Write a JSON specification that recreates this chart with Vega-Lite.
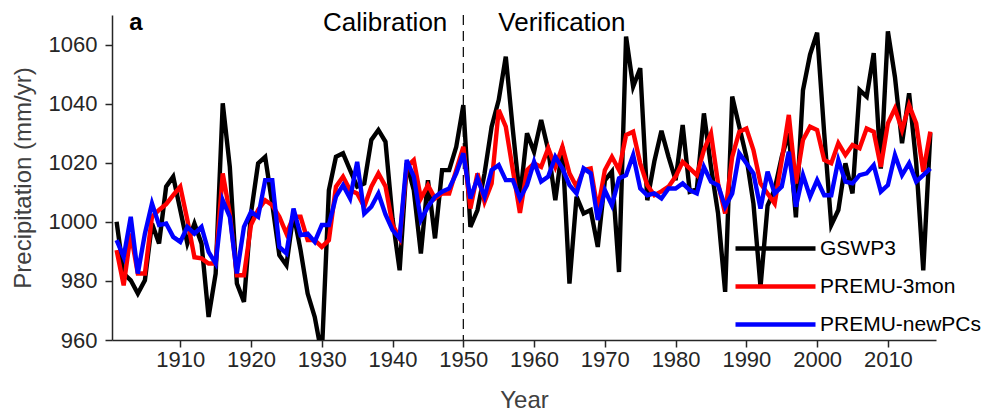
{
  "$schema": "https://vega.github.io/schema/vega-lite/v6.json",
  "width": 824,
  "height": 325,
  "autosize": {"type": "none"},
  "padding": {"left": 112, "top": 15, "right": 51, "bottom": 78},
  "background": "white",
  "config": {
    "view": {"stroke": null},
    "font": "Liberation Sans",
    "axis": {"grid": false}
  },
  "datasets": {
    "series": [
      {"year":1901,"GSWP3":1000,"PREMU-3mon":990.4,"PREMU-newPCs":993.8},
      {"year":1902,"GSWP3":982.5,"PREMU-3mon":978.5,"PREMU-newPCs":988.1},
      {"year":1903,"GSWP3":980.2,"PREMU-3mon":996,"PREMU-newPCs":1001.7},
      {"year":1904,"GSWP3":975.7,"PREMU-3mon":982.5,"PREMU-newPCs":982.5},
      {"year":1905,"GSWP3":980.2,"PREMU-3mon":982.5,"PREMU-newPCs":996},
      {"year":1906,"GSWP3":999.4,"PREMU-3mon":1001.7,"PREMU-newPCs":1006.2},
      {"year":1907,"GSWP3":992.7,"PREMU-3mon":1004,"PREMU-newPCs":998.9},
      {"year":1908,"GSWP3":1011.9,"PREMU-3mon":1006,"PREMU-newPCs":999.4},
      {"year":1909,"GSWP3":1015.3,"PREMU-3mon":1009,"PREMU-newPCs":994.9},
      {"year":1910,"GSWP3":1004,"PREMU-3mon":1011.9,"PREMU-newPCs":993.2},
      {"year":1911,"GSWP3":992.7,"PREMU-3mon":1000.6,"PREMU-newPCs":998.3},
      {"year":1912,"GSWP3":999.4,"PREMU-3mon":988,"PREMU-newPCs":996},
      {"year":1913,"GSWP3":992.7,"PREMU-3mon":987.6,"PREMU-newPCs":998.3},
      {"year":1914,"GSWP3":967.8,"PREMU-3mon":985.9,"PREMU-newPCs":989.8},
      {"year":1915,"GSWP3":982.5,"PREMU-3mon":985.9,"PREMU-newPCs":985.9},
      {"year":1916,"GSWP3":1040.1,"PREMU-3mon":1016.4,"PREMU-newPCs":1007.3},
      {"year":1917,"GSWP3":1018.6,"PREMU-3mon":1002.8,"PREMU-newPCs":1001.7},
      {"year":1918,"GSWP3":979.1,"PREMU-3mon":981.9,"PREMU-newPCs":982.5},
      {"year":1919,"GSWP3":972.9,"PREMU-3mon":981.9,"PREMU-newPCs":998.3},
      {"year":1920,"GSWP3":1003,"PREMU-3mon":999,"PREMU-newPCs":1003.4},
      {"year":1921,"GSWP3":1019.8,"PREMU-3mon":1004,"PREMU-newPCs":1001.7},
      {"year":1922,"GSWP3":1022,"PREMU-3mon":1007.3,"PREMU-newPCs":1014.1},
      {"year":1923,"GSWP3":1006,"PREMU-3mon":1005.6,"PREMU-newPCs":1014.1},
      {"year":1924,"GSWP3":988.7,"PREMU-3mon":1001.7,"PREMU-newPCs":991.5},
      {"year":1925,"GSWP3":985.3,"PREMU-3mon":996,"PREMU-newPCs":989.3},
      {"year":1926,"GSWP3":1002.8,"PREMU-3mon":1001.7,"PREMU-newPCs":1004.5},
      {"year":1927,"GSWP3":990.4,"PREMU-3mon":1001.7,"PREMU-newPCs":995.5},
      {"year":1928,"GSWP3":975.7,"PREMU-3mon":993.8,"PREMU-newPCs":996},
      {"year":1929,"GSWP3":967.8,"PREMU-3mon":993.8,"PREMU-newPCs":993.2},
      {"year":1930,"GSWP3":955,"PREMU-3mon":991.5,"PREMU-newPCs":998.9},
      {"year":1931,"GSWP3":1010.7,"PREMU-3mon":993.8,"PREMU-newPCs":998.9},
      {"year":1932,"GSWP3":1022,"PREMU-3mon":1011.9,"PREMU-newPCs":1008.5},
      {"year":1933,"GSWP3":1023.2,"PREMU-3mon":1015.3,"PREMU-newPCs":1012.4},
      {"year":1934,"GSWP3":1017.5,"PREMU-3mon":1010.7,"PREMU-newPCs":1007.9},
      {"year":1935,"GSWP3":1011.9,"PREMU-3mon":1009.6,"PREMU-newPCs":1020.3},
      {"year":1936,"GSWP3":1013,"PREMU-3mon":1005.1,"PREMU-newPCs":1002.8},
      {"year":1937,"GSWP3":1027.7,"PREMU-3mon":1011.9,"PREMU-newPCs":1005.1},
      {"year":1938,"GSWP3":1031.1,"PREMU-3mon":1016.4,"PREMU-newPCs":1009.6},
      {"year":1939,"GSWP3":1027.1,"PREMU-3mon":1012,"PREMU-newPCs":1002.5},
      {"year":1940,"GSWP3":1001,"PREMU-3mon":999,"PREMU-newPCs":997.2},
      {"year":1941,"GSWP3":983.6,"PREMU-3mon":994.4,"PREMU-newPCs":994.4},
      {"year":1942,"GSWP3":1019.8,"PREMU-3mon":1018.6,"PREMU-newPCs":1020.9},
      {"year":1943,"GSWP3":1010.7,"PREMU-3mon":1020.9,"PREMU-newPCs":1015.3},
      {"year":1944,"GSWP3":989.3,"PREMU-3mon":1007.9,"PREMU-newPCs":1000.6},
      {"year":1945,"GSWP3":1014.1,"PREMU-3mon":1012.4,"PREMU-newPCs":1005.1},
      {"year":1946,"GSWP3":994.4,"PREMU-3mon":1007.9,"PREMU-newPCs":1008.5},
      {"year":1947,"GSWP3":1017.5,"PREMU-3mon":1009.6,"PREMU-newPCs":1010.2},
      {"year":1948,"GSWP3":1017.5,"PREMU-3mon":1009.6,"PREMU-newPCs":1011.3},
      {"year":1949,"GSWP3":1025.4,"PREMU-3mon":1017.5,"PREMU-newPCs":1016.4},
      {"year":1950,"GSWP3":1039.5,"PREMU-3mon":1025.4,"PREMU-newPCs":1023.2},
      {"year":1951,"GSWP3":998.3,"PREMU-3mon":1004.5,"PREMU-newPCs":1007.9},
      {"year":1952,"GSWP3":1004,"PREMU-3mon":1016.4,"PREMU-newPCs":1014.7},
      {"year":1953,"GSWP3":1016.4,"PREMU-3mon":1006.8,"PREMU-newPCs":1008.5},
      {"year":1954,"GSWP3":1032.2,"PREMU-3mon":1013,"PREMU-newPCs":1017.5},
      {"year":1955,"GSWP3":1041.2,"PREMU-3mon":1037.9,"PREMU-newPCs":1019.2},
      {"year":1956,"GSWP3":1055.9,"PREMU-3mon":1032.2,"PREMU-newPCs":1014.1},
      {"year":1957,"GSWP3":1031.1,"PREMU-3mon":1017.5,"PREMU-newPCs":1014.1},
      {"year":1958,"GSWP3":1008,"PREMU-3mon":1003,"PREMU-newPCs":1007.9},
      {"year":1959,"GSWP3":1030,"PREMU-3mon":1017.5,"PREMU-newPCs":1012.4},
      {"year":1960,"GSWP3":1023.7,"PREMU-3mon":1019.8,"PREMU-newPCs":1020.3},
      {"year":1961,"GSWP3":1034.5,"PREMU-3mon":1018.6,"PREMU-newPCs":1013.6},
      {"year":1962,"GSWP3":1024.3,"PREMU-3mon":1024.9,"PREMU-newPCs":1015.3},
      {"year":1963,"GSWP3":1007.3,"PREMU-3mon":1018.6,"PREMU-newPCs":1022},
      {"year":1964,"GSWP3":1025.4,"PREMU-3mon":1025.4,"PREMU-newPCs":1018.1},
      {"year":1965,"GSWP3":979.1,"PREMU-3mon":1016.4,"PREMU-newPCs":1012.4},
      {"year":1966,"GSWP3":1008.5,"PREMU-3mon":1011.9,"PREMU-newPCs":1009.6},
      {"year":1967,"GSWP3":1002.8,"PREMU-3mon":1017.5,"PREMU-newPCs":1018.1},
      {"year":1968,"GSWP3":1004,"PREMU-3mon":1018.1,"PREMU-newPCs":1016.4},
      {"year":1969,"GSWP3":991.5,"PREMU-3mon":1004,"PREMU-newPCs":1000.6},
      {"year":1970,"GSWP3":1014,"PREMU-3mon":1017.5,"PREMU-newPCs":1010.7},
      {"year":1971,"GSWP3":1017,"PREMU-3mon":1022,"PREMU-newPCs":1005.6},
      {"year":1972,"GSWP3":983,"PREMU-3mon":1017.5,"PREMU-newPCs":1014.7},
      {"year":1973,"GSWP3":1062.7,"PREMU-3mon":1029.4,"PREMU-newPCs":1015.8},
      {"year":1974,"GSWP3":1045.8,"PREMU-3mon":1030.5,"PREMU-newPCs":1022.6},
      {"year":1975,"GSWP3":1052,"PREMU-3mon":1019.8,"PREMU-newPCs":1011.3},
      {"year":1976,"GSWP3":1007.3,"PREMU-3mon":1012.4,"PREMU-newPCs":1009},
      {"year":1977,"GSWP3":1020.5,"PREMU-3mon":1009,"PREMU-newPCs":1009.6},
      {"year":1978,"GSWP3":1030.8,"PREMU-3mon":1010.3,"PREMU-newPCs":1007.9},
      {"year":1979,"GSWP3":1022,"PREMU-3mon":1011.9,"PREMU-newPCs":1011.3},
      {"year":1980,"GSWP3":1014.1,"PREMU-3mon":1015.3,"PREMU-newPCs":1011.3},
      {"year":1981,"GSWP3":1032.8,"PREMU-3mon":1020.3,"PREMU-newPCs":1013},
      {"year":1982,"GSWP3":1010.2,"PREMU-3mon":1018.1,"PREMU-newPCs":1010.7},
      {"year":1983,"GSWP3":1011,"PREMU-3mon":1015.8,"PREMU-newPCs":1009.6},
      {"year":1984,"GSWP3":1036.7,"PREMU-3mon":1024.3,"PREMU-newPCs":1018.6},
      {"year":1985,"GSWP3":1018.6,"PREMU-3mon":1029.9,"PREMU-newPCs":1013.6},
      {"year":1986,"GSWP3":1002.8,"PREMU-3mon":1013,"PREMU-newPCs":1012.4},
      {"year":1987,"GSWP3":976.3,"PREMU-3mon":1002.8,"PREMU-newPCs":1005.1},
      {"year":1988,"GSWP3":1042.4,"PREMU-3mon":1022,"PREMU-newPCs":1009.6},
      {"year":1989,"GSWP3":1032.2,"PREMU-3mon":1030.5,"PREMU-newPCs":1023.2},
      {"year":1990,"GSWP3":1022,"PREMU-3mon":1031.6,"PREMU-newPCs":1019.8},
      {"year":1991,"GSWP3":1006.2,"PREMU-3mon":1024.3,"PREMU-newPCs":1016.4},
      {"year":1992,"GSWP3":978,"PREMU-3mon":1013,"PREMU-newPCs":1004.5},
      {"year":1993,"GSWP3":1005.5,"PREMU-3mon":1009.6,"PREMU-newPCs":1017},
      {"year":1994,"GSWP3":1011,"PREMU-3mon":1006.2,"PREMU-newPCs":1009.6},
      {"year":1995,"GSWP3":1022,"PREMU-3mon":1020.9,"PREMU-newPCs":1011.9},
      {"year":1996,"GSWP3":1030,"PREMU-3mon":1036.2,"PREMU-newPCs":1023.7},
      {"year":1997,"GSWP3":1001.5,"PREMU-3mon":1013,"PREMU-newPCs":1005.1},
      {"year":1998,"GSWP3":1044.5,"PREMU-3mon":1027.7,"PREMU-newPCs":1015.8},
      {"year":1999,"GSWP3":1056.6,"PREMU-3mon":1032.2,"PREMU-newPCs":1008.5},
      {"year":2000,"GSWP3":1064,"PREMU-3mon":1031.1,"PREMU-newPCs":1014.1},
      {"year":2001,"GSWP3":1030,"PREMU-3mon":1020.9,"PREMU-newPCs":1009},
      {"year":2002,"GSWP3":998.9,"PREMU-3mon":1019.8,"PREMU-newPCs":1009},
      {"year":2003,"GSWP3":1004,"PREMU-3mon":1026.6,"PREMU-newPCs":1020.9},
      {"year":2004,"GSWP3":1019.8,"PREMU-3mon":1022.6,"PREMU-newPCs":1013.6},
      {"year":2005,"GSWP3":1009.6,"PREMU-3mon":1026,"PREMU-newPCs":1013},
      {"year":2006,"GSWP3":1044.6,"PREMU-3mon":1024.9,"PREMU-newPCs":1015.8},
      {"year":2007,"GSWP3":1042.4,"PREMU-3mon":1031.6,"PREMU-newPCs":1016.4},
      {"year":2008,"GSWP3":1057.1,"PREMU-3mon":1030.5,"PREMU-newPCs":1019.2},
      {"year":2009,"GSWP3":1018,"PREMU-3mon":1018.6,"PREMU-newPCs":1010.2},
      {"year":2010,"GSWP3":1064.5,"PREMU-3mon":1033.3,"PREMU-newPCs":1012.4},
      {"year":2011,"GSWP3":1049,"PREMU-3mon":1038.4,"PREMU-newPCs":1022.6},
      {"year":2012,"GSWP3":1026.6,"PREMU-3mon":1031.1,"PREMU-newPCs":1015.8},
      {"year":2013,"GSWP3":1043.5,"PREMU-3mon":1039.5,"PREMU-newPCs":1019.8},
      {"year":2014,"GSWP3":1020,"PREMU-3mon":1033.3,"PREMU-newPCs":1013.6},
      {"year":2015,"GSWP3":983.6,"PREMU-3mon":1016.9,"PREMU-newPCs":1015.8},
      {"year":2016,"GSWP3":1030,"PREMU-3mon":1030.5,"PREMU-newPCs":1018.1}
    ]
  },
  "layer": [
    {
      "data": {"values": [{}]},
      "mark": {"type": "rule", "color": "#000000", "strokeWidth": 1.2, "strokeDash": [10, 6]},
      "encoding": {"x": {"datum": 1950, "type": "quantitative"}}
    },
    {
      "data": {"name": "series"},
      "transform": [{"fold": ["GSWP3", "PREMU-3mon", "PREMU-newPCs"], "as": ["series", "value"]}],
      "mark": {"type": "line", "strokeWidth": 4.4, "clip": true},
      "encoding": {
        "x": {
          "field": "year", "type": "quantitative",
          "scale": {"domain": [1900.35, 2016.8], "nice": false, "zero": false},
          "axis": {
            "title": "Year",
            "values": [1910, 1920, 1930, 1940, 1950, 1960, 1970, 1980, 1990, 2000, 2010],
            "format": "d",
            "labelFontSize": 22,
            "labelColor": "#262626",
            "labelPadding": 2,
            "labelFlush": false,
            "tickColor": "#262626",
            "tickWidth": 1.5,
            "tickSize": 7,
            "domainColor": "#262626",
            "domainWidth": 1.5,
            "titleFontSize": 24,
            "titleFontWeight": "normal",
            "titleColor": "#404040",
            "titlePadding": 18
          }
        },
        "y": {
          "field": "value", "type": "quantitative",
          "scale": {"domain": [960, 1070], "nice": false, "zero": false},
          "axis": {
            "title": "Precipitation (mm/yr)",
            "values": [960, 965, 970, 975, 980, 985, 990, 995, 1000, 1005, 1010, 1015, 1020, 1025, 1030, 1035, 1040, 1045, 1050, 1055, 1060, 1065, 1070],
            "labelExpr": "datum.value % 20 === 0 ? datum.label : ''",
            "format": "d",
            "labelFontSize": 22,
            "labelColor": "#262626",
            "labelPadding": 8,
            "tickColor": "#262626",
            "tickWidth": 1.5,
            "tickSize": {"condition": {"test": "datum.value % 20 === 0", "value": 7}, "value": 4},
            "domainColor": "#262626",
            "domainWidth": 1.5,
            "titleFontSize": 24,
            "titleFontWeight": "normal",
            "titleColor": "#404040",
            "titlePadding": 13
          }
        },
        "color": {
          "field": "series", "type": "nominal",
          "scale": {"domain": ["GSWP3", "PREMU-3mon", "PREMU-newPCs"], "range": ["#000000", "#ff0000", "#0000ff"]},
          "legend": {
            "title": null,
            "orient": "none",
            "legendX": 653,
            "legendY": 223,
            "padding": 0,
            "symbolType": "M-5,0H5",
            "symbolSize": 256,
            "symbolStrokeWidth": 4.4,
            "labelFontSize": 21,
            "labelColor": "#000000",
            "labelOffset": 34,
            "rowPadding": 16,
            "labelLimit": 300
          }
        }
      }
    },
    {
      "data": {"values": [{}]},
      "mark": {"type": "text", "align": "right", "baseline": "alphabetic", "dx": -16, "fontSize": 26, "color": "#000000"},
      "encoding": {
        "x": {"datum": 1950, "type": "quantitative"},
        "y": {"datum": 1064.6, "type": "quantitative"},
        "text": {"value": "Calibration"}
      }
    },
    {
      "data": {"values": [{}]},
      "mark": {"type": "text", "align": "left", "baseline": "alphabetic", "dx": 35, "fontSize": 26, "color": "#000000"},
      "encoding": {
        "x": {"datum": 1950, "type": "quantitative"},
        "y": {"datum": 1064.6, "type": "quantitative"},
        "text": {"value": "Verification"}
      }
    },
    {
      "data": {"values": [{}]},
      "mark": {"type": "text", "align": "left", "baseline": "alphabetic", "fontSize": 24, "fontWeight": "bold", "color": "#000000"},
      "encoding": {
        "x": {"datum": 1902.8, "type": "quantitative"},
        "y": {"datum": 1065, "type": "quantitative"},
        "text": {"value": "a"}
      }
    }
  ]
}
